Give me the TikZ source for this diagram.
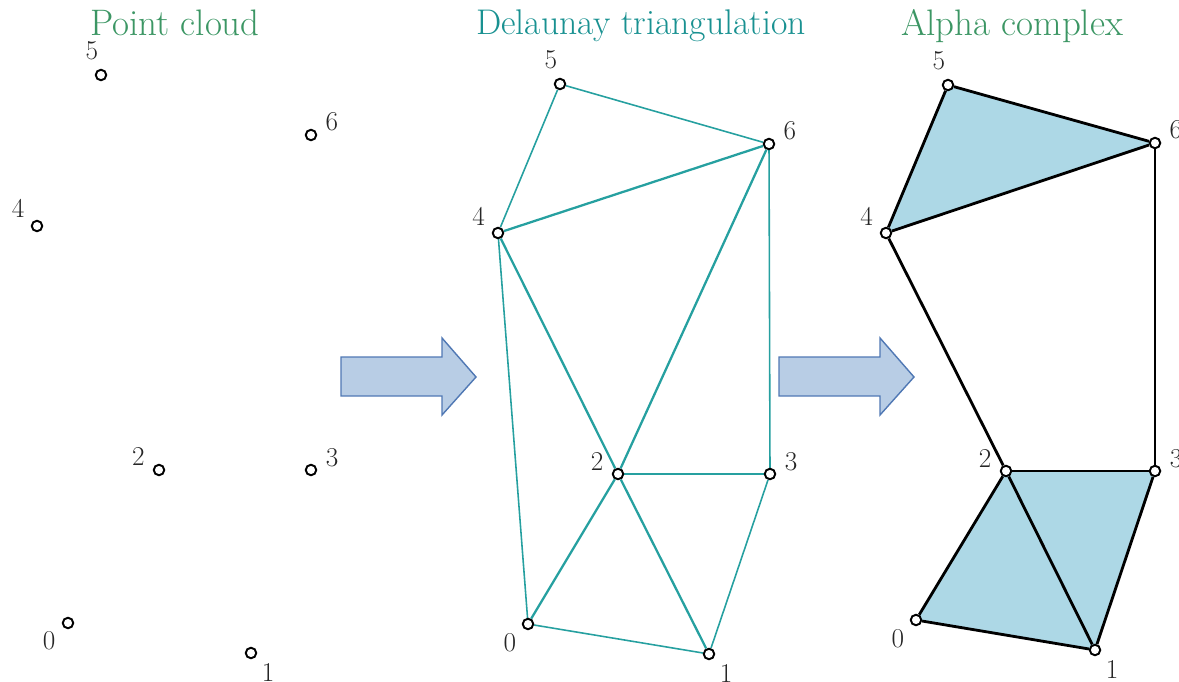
\documentclass[tikz,border=0pt]{standalone}
\usepackage{xcolor}
\usepackage{tikz}
\usetikzlibrary{positioning, backgrounds}
\definecolor{delteal}{RGB}{38,160,160}
\definecolor{delteal2}{RGB}{25,145,145}
\definecolor{alphagreen}{RGB}{60,150,100}
\definecolor{simplexblue}{RGB}{173,216,230}
\definecolor{arrowfill}{RGB}{184,205,229}
\definecolor{arrowdraw}{RGB}{80,120,180}

\begin{document}
\begin{tikzpicture}[
  x=0.02cm, y=-0.02cm,
  pt/.style={circle, draw=black, fill=white, line width=1.1pt, inner sep=0pt, minimum size=0.21cm},
  every label/.style={font=\fontsize{15.5}{18}\selectfont, inner sep=0pt, text=black!85},
  label distance=0.17cm,
  title/.style={anchor=base, font=\fontsize{21}{24}\selectfont},
  dthin/.style={delteal, line width=0.9pt},
  dthick/.style={delteal, line width=1.3pt},
  aedge/.style={black, line width=1.6pt},
  face/.style={fill=simplexblue},
  bigarrow/.style={fill=arrowfill, draw=arrowdraw, line width=0.8pt}
]
\useasboundingbox (0,0) rectangle (1179,682);

% titles
\node[title, text=alphagreen] (tcloud) at (175,36) {Point cloud};
\node[title, text=delteal2, font=\fontsize{20.3}{24}\selectfont] (tdel) at (641,35) {Delaunay triangulation};
\node[title, text=alphagreen] (talpha) at (1012,36) {Alpha complex};

% point cloud
\node[pt, label={214:0}] (a0) at (68,623) {};
\node[pt, label={-45:1}] (a1) at (251,653) {};
\node[pt, label={163:2}] (a2) at (159,470) {};
\node[pt, label={10:3}]  (a3) at (311,470) {};
\node[pt, label={147:4}] (a4) at (37,226) {};
\node[pt, label={100:5}] (a5) at (101,75) {};
\node[pt, label={15:6}]  (a6) at (311,135) {};

% delaunay triangulation
\node[pt, label={219:0}] (b0) at (528,624) {};
\node[pt, label={-45:1}] (b1) at (709,654) {};
\node[pt, label={167:2}] (b2) at (618,474) {};
\node[pt, label={10:3}]  (b3) at (770,474) {};
\node[pt, label={150:4}] (b4) at (498,233) {};
\node[pt, label={100:5}] (b5) at (560,84) {};
\node[pt, label={15:6}]  (b6) at (769,144) {};

% alpha complex
\node[pt, label={219:0}] (c0) at (916,620) {};
\node[pt, label={-45:1}] (c1) at (1095,650) {};
\node[pt, label={167:2}] (c2) at (1006,471) {};
\node[pt, label={10:3}]  (c3) at (1155,471) {};
\node[pt, label={150:4}] (c4) at (886,233) {};
\node[pt, label={100:5}] (c5) at (948,85) {};
\node[pt, label={15:6}]  (c6) at (1155,143) {};

\begin{pgfonlayer}{background}
  \draw[dthin] (b5) -- (b6);
  \draw[dthin] (b5) -- (b4);
  \draw[dthick] (b4) -- (b6);
  \draw[dthick] (b6) -- (b2);
  \draw[dthin] (b6) -- (b3);
  \draw[dthick] (b4) -- (b2);
  \draw[dthin] (b4) -- (b0);
  \draw[dthick] (b2) -- (b3);
  \draw[dthick] (b2) -- (b0);
  \draw[dthick] (b2) -- (b1);
  \draw[dthin] (b3) -- (b1);
  \draw[dthin] (b0) -- (b1);

  \fill[face] (c4.center) -- (c5.center) -- (c6.center) -- cycle;
  \fill[face] (c0.center) -- (c1.center) -- (c2.center) -- cycle;
  \fill[face] (c1.center) -- (c2.center) -- (c3.center) -- cycle;
  \draw[aedge] (c4) -- (c5);
  \draw[aedge] (c5) -- (c6);
  \draw[aedge] (c4) -- (c6);
  \draw[aedge] (c6) -- (c3);
  \draw[aedge] (c4) -- (c2);
  \draw[aedge] (c2) -- (c3);
  \draw[aedge] (c2) -- (c0);
  \draw[aedge] (c2) -- (c1);
  \draw[aedge] (c0) -- (c1);
  \draw[aedge] (c3) -- (c1);
\end{pgfonlayer}

% block arrows
\draw[bigarrow] (341,357) -- (442,357) -- (442,338) -- (476,377) -- (442,415) -- (442,396) -- (341,396) -- cycle;
\draw[bigarrow] (779,357) -- (880,357) -- (880,338) -- (914,377) -- (880,415) -- (880,396) -- (779,396) -- cycle;
\end{tikzpicture}
\end{document}
